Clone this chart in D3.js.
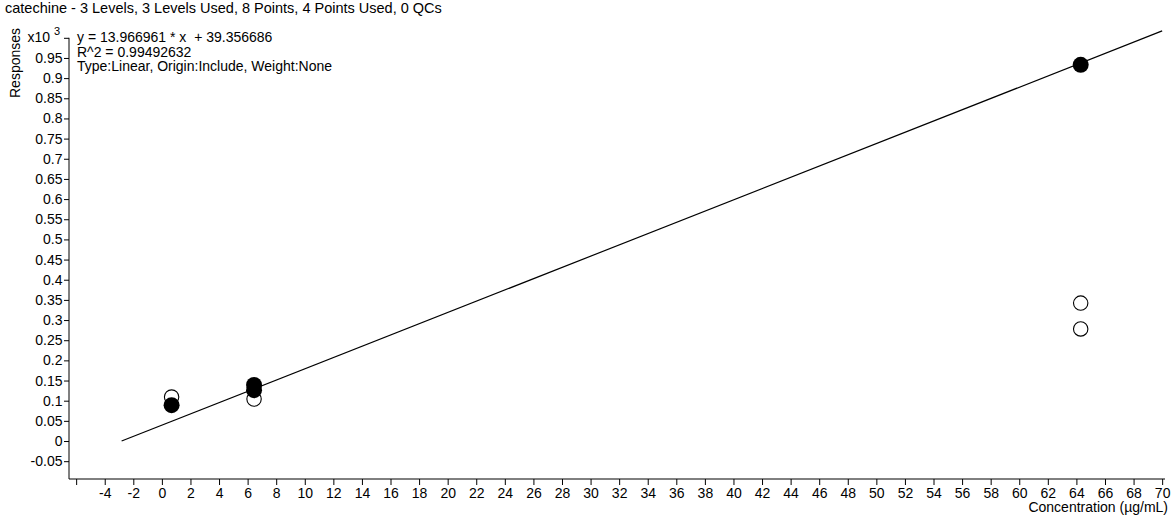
<!DOCTYPE html>
<html>
<head>
<meta charset="utf-8">
<script src="https://cdn.jsdelivr.net/npm/d3@7"></script>
<style>
  html, body { margin: 0; padding: 0; background: #fff; }
  svg { display: block; font-family: Arial, "Liberation Sans", sans-serif; }
  text { white-space: pre; }
</style>
</head>
<body>
<svg id="chart" width="1173" height="516"></svg>
<script>
// Calibration data for catechine (responses in units of x10^3)
const usedConc = [0.68, 6.45, 6.45, 64.3];
const usedResp = [89, 139, 126, 933];
const excludedConc = [0.68, 6.45, 64.3, 64.3];
const excludedResp = [109, 104, 342, 278];

// Fitted calibration curve
const slope = 13.966961;
const intercept = 39.356686;

const xTicks = [-6, -4, -2, 0, 2, 4, 6, 8, 10, 12, 14, 16, 18, 20, 22, 24, 26, 28, 30, 32, 34,
  36, 38, 40, 42, 44, 46, 48, 50, 52, 54, 56, 58, 60, 62, 64, 66, 68, 70];
const yTicks = [-0.05, 0, 0.05, 0.1, 0.15, 0.2, 0.25, 0.3, 0.35, 0.4, 0.45, 0.5, 0.55, 0.6,
  0.65, 0.7, 0.75, 0.8, 0.85, 0.9, 0.95, 1.0];

const titleText = "catechine - 3 Levels, 3 Levels Used, 8 Points, 4 Points Used, 0 QCs";
const infoLines = [
  "y = 13.966961 * x  + 39.356686",
  "R^2 = 0.99492632",
  "Type:Linear, Origin:Include, Weight:None"
];

const svg = d3.select("#chart");
const plotLeft = 69, plotRight = 1165, plotTop = 37.8, plotBottom = 479;
const fontFamily = "Arial, 'Liberation Sans', sans-serif";

const x = d3.scaleLinear().domain([-6.5, 70.2]).range([plotLeft, plotRight]);
// y values expressed in thousands
const y = d3.scaleLinear().domain([-0.0942, 1.0]).range([plotBottom, plotTop]);

const fmtY = v => v === 1.0 ? "" : String(+v.toFixed(2));

// Y axis
const yAxis = d3.axisLeft(y).tickValues(yTicks).tickSize(5).tickPadding(1.5)
  .tickFormat(fmtY).tickSizeOuter(0);
const gy = svg.append("g").attr("transform", `translate(${plotLeft},0)`).call(yAxis);
gy.select(".domain").attr("d", `M0,${plotTop}V${plotBottom}`);
gy.selectAll("text").attr("font-size", 14).attr("font-family", fontFamily).attr("fill", "#000");
gy.selectAll("line, path").attr("stroke", "#000");

// x10^3 multiplier at the top tick
const mult = svg.append("text").attr("x", 60).attr("y", 42)
  .attr("text-anchor", "end").attr("font-size", 14);
mult.append("tspan").text("x10 ");
mult.append("tspan").attr("font-size", 11).attr("dy", -7).text("3");

// X axis
const xAxis = d3.axisBottom(x).tickValues(xTicks).tickSize(6).tickPadding(3)
  .tickFormat(v => v === -6 ? "" : String(v)).tickSizeOuter(0);
const gx = svg.append("g").attr("transform", `translate(0,${plotBottom})`).call(xAxis);
gx.select(".domain").attr("d", `M${plotLeft},0H${plotRight}`);
gx.selectAll("text").attr("font-size", 14).attr("font-family", fontFamily).attr("fill", "#000");
gx.selectAll("line, path").attr("stroke", "#000");

// Axis titles
svg.append("text").attr("x", 1168).attr("y", 512).attr("text-anchor", "end")
  .attr("font-size", 14).text("Concentration (\u00b5g/mL)");
svg.append("text").attr("transform", "translate(19.5,63) rotate(-90)")
  .attr("text-anchor", "middle").attr("font-size", 14).text("Responses");

// Title and fit summary
svg.append("text").attr("x", 5).attr("y", 12.5).attr("font-size", 14.5).text(titleText);
svg.append("g").selectAll("text").data(infoLines).join("text")
  .attr("x", 77).attr("y", (d, i) => 42 + i * 14.5).attr("font-size", 14).text(d => d);

// Calibration line from the x-intercept to the right edge
const x0 = -intercept / slope;
const x1 = 70;
svg.append("line")
  .attr("x1", x(x0)).attr("y1", y((slope * x0 + intercept) / 1000))
  .attr("x2", x(x1)).attr("y2", y((slope * x1 + intercept) / 1000))
  .attr("stroke", "#000").attr("stroke-width", 1.2);

// Excluded points (open) and used points (filled)
svg.append("g").selectAll("circle").data(excludedConc).join("circle")
  .attr("cx", d => x(d)).attr("cy", (d, i) => y(excludedResp[i] / 1000))
  .attr("r", 7.2).attr("fill", "#fff").attr("stroke", "#000").attr("stroke-width", 1.1);
svg.append("g").selectAll("circle").data(usedConc).join("circle")
  .attr("cx", d => x(d)).attr("cy", (d, i) => y(usedResp[i] / 1000))
  .attr("r", 8).attr("fill", "#000");
</script>
</body>
</html>
